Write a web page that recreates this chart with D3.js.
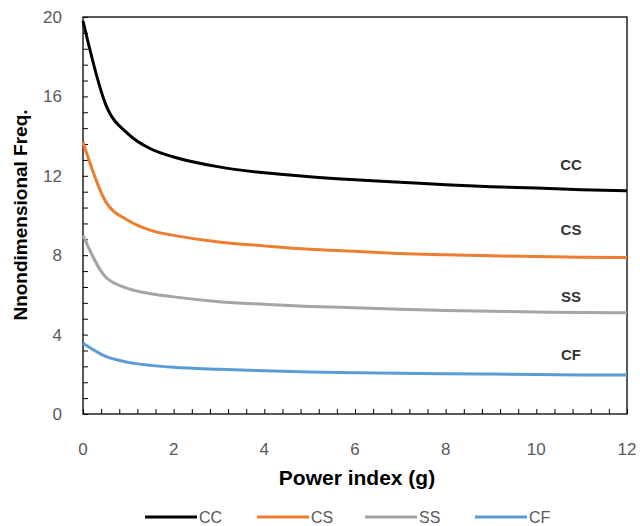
<!DOCTYPE html>
<html>
<head>
<meta charset="utf-8">
<script src="https://cdn.jsdelivr.net/npm/d3@7"></script>
<style>
  body { margin: 0; background: #fff; }
  svg { font-family: "Liberation Sans", Arial, sans-serif; }
</style>
</head>
<body>
<svg id="chart"></svg>
<script>
// Power index values (g)
const gValues = [0, 0.5, 1, 1.5, 2, 3, 4, 5, 6, 7, 8, 9, 10, 11, 12];

// Nondimensional frequency for each boundary condition
const ccValues = [19.8, 15.6, 14.1, 13.35, 12.95, 12.45, 12.15, 11.95, 11.8, 11.68, 11.55, 11.45, 11.38, 11.3, 11.25];
const csValues = [13.7, 10.7, 9.75, 9.25, 9.0, 8.67, 8.47, 8.3, 8.2, 8.08, 8.02, 7.97, 7.93, 7.9, 7.88];
const ssValues = [9.0, 6.9, 6.32, 6.06, 5.9, 5.66, 5.53, 5.42, 5.35, 5.28, 5.22, 5.18, 5.14, 5.11, 5.1];
const cfValues = [3.56, 2.9, 2.6, 2.45, 2.35, 2.25, 2.18, 2.12, 2.08, 2.05, 2.03, 2.01, 1.99, 1.97, 1.96];

const seriesNames = ["CC", "CS", "SS", "CF"];
const seriesColors = ["#000000", "#ED7D31", "#A5A5A5", "#5B9BD5"];
const xTickLabels = [0, 2, 4, 6, 8, 10, 12];
const yTickLabels = [0, 4, 8, 12, 16, 20];

const series = [ccValues, csValues, ssValues, cfValues].map((vals, i) => ({
    name: seriesNames[i],
    color: seriesColors[i],
    points: vals.map((v, j) => ({ g: gValues[j], v: v }))
}));

const width = 640, height = 526;
const margin = { top: 17, right: 13, bottom: 112, left: 83 };

const svg = d3.select("#chart")
    .attr("width", width)
    .attr("height", height);

const x = d3.scaleLinear().domain([0, 12]).range([margin.left, width - margin.right]);
const y = d3.scaleLinear().domain([0, 20]).range([height - margin.bottom, margin.top]);

// Minor/major ticks drawn inside the plot
const xAxis = svg.append("g")
    .attr("transform", `translate(0, ${height - margin.bottom})`)
    .call(d3.axisTop(x).tickValues(d3.range(0, 12.01, 0.4)).tickSize(5).tickFormat(""));
const yAxis = svg.append("g")
    .attr("transform", `translate(${margin.left}, 0)`)
    .call(d3.axisRight(y).tickValues(d3.range(0, 20.01, 0.8)).tickSize(5).tickFormat(""));
[xAxis, yAxis].forEach(a => {
    a.select(".domain").remove();
    a.selectAll("line").attr("stroke", "#000");
});

// Frame
svg.append("rect")
    .attr("x", margin.left)
    .attr("y", margin.top)
    .attr("width", width - margin.right - margin.left)
    .attr("height", height - margin.bottom - margin.top)
    .attr("fill", "none")
    .attr("stroke", "#000")
    .attr("stroke-width", 1.3);

// Tick labels
svg.selectAll(".xlab")
    .data(xTickLabels)
    .join("text")
    .attr("x", d => x(d))
    .attr("y", 455)
    .attr("text-anchor", "middle")
    .style("font-size", "17px")
    .style("fill", "#595959")
    .text(d => d);

svg.selectAll(".ylab")
    .data(yTickLabels)
    .join("text")
    .attr("x", 62)
    .attr("y", d => y(d) + 6)
    .attr("text-anchor", "end")
    .style("font-size", "17px")
    .style("fill", "#595959")
    .text(d => d);

// Curves
const line = d3.line()
    .x(d => x(d.g))
    .y(d => y(d.v))
    .curve(d3.curveMonotoneX);

svg.selectAll(".curve")
    .data(series)
    .join("path")
    .attr("d", d => line(d.points))
    .attr("fill", "none")
    .attr("stroke", d => d.color)
    .attr("stroke-width", 3);

// Curve labels
const labelY = [170, 235, 302, 360];
svg.selectAll(".clab")
    .data(series)
    .join("text")
    .attr("x", 571)
    .attr("y", (d, i) => labelY[i])
    .attr("text-anchor", "middle")
    .style("font-size", "15px")
    .style("font-weight", "bold")
    .style("fill", "#333")
    .text(d => d.name);

// Axis titles
svg.append("text")
    .attr("x", 357)
    .attr("y", 485)
    .attr("text-anchor", "middle")
    .style("font-size", "21px")
    .style("font-weight", "bold")
    .text("Power index (g)");

svg.append("text")
    .attr("text-anchor", "middle")
    .attr("transform", `translate(27, 215) rotate(-90)`)
    .style("font-size", "19px")
    .style("font-weight", "bold")
    .text("Nnondimensional Freq.");

// Legend
const legendX = [145, 257, 365, 475];
const legend = svg.selectAll(".legend")
    .data(series)
    .join("g")
    .attr("transform", (d, i) => `translate(${legendX[i]}, 517)`);
legend.append("line")
    .attr("x1", 0).attr("x2", 52)
    .attr("stroke", d => d.color)
    .attr("stroke-width", 3);
legend.append("text")
    .attr("x", 54)
    .attr("y", 6)
    .style("font-size", "16px")
    .style("fill", "#595959")
    .text(d => d.name);
</script>
</body>
</html>
